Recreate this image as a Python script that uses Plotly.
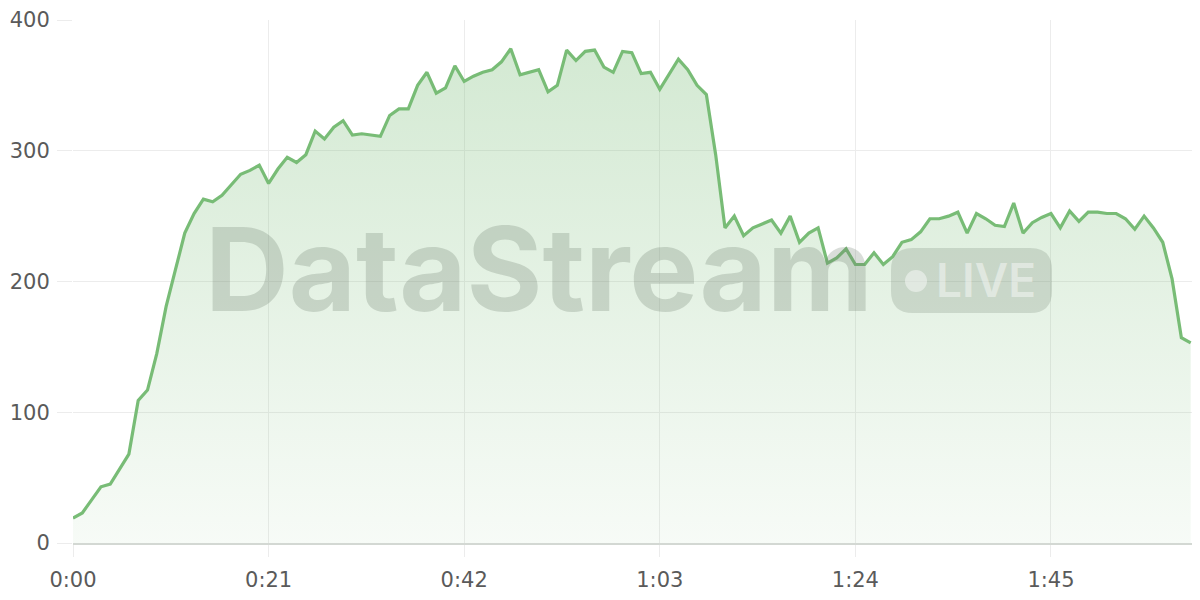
import plotly.graph_objects as go

# data (seconds, viewers)
values = [19, 23, 33, 43, 45, 57, 68, 109, 117, 145,
          181, 209, 237, 252, 263, 261, 266, 274, 282, 285,
          289, 275, 286, 295, 291, 297, 315, 309, 318, 323,
          312, 313, 312, 311, 327, 332, 332, 350, 360, 344,
          348, 365, 353, 357, 360, 362, 368, 378, 358, 360,
          362, 345, 350, 377, 369, 376, 377, 364, 360, 376,
          375, 359, 360, 347, 359, 370, 362, 350, 343, 297,
          241, 250, 235, 241, 244, 247, 237, 250, 230, 237,
          241, 214, 218, 225, 213, 213, 222, 213, 219, 230,
          232, 238, 248, 248, 250, 253, 237, 252, 248, 243,
          242, 260, 237, 245, 249, 252, 241, 254, 246, 253,
          253, 252, 252, 248, 240, 250, 241, 230, 202, 157, 153]
seconds = list(range(len(values)))
tick_vals = [0, 21, 42, 63, 84, 105]
tick_text = ["0:00", "0:21", "0:42", "1:03", "1:24", "1:45"]
y_ticks = [0, 100, 200, 300, 400]

# the page body has an 8px margin, so the figure is offset by 8px
OFF = 8
W, H = 1200 - OFF, 600 - OFF
ML, MR, MT, MB = 73 - OFF, 0, 20 - OFF, 57
PW, PH = W - ML - MR, H - MT - MB


def px(x):
    # page pixel -> paper x
    return (x - OFF - ML) / PW


def py(y):
    # page pixel -> paper y
    return (H - MB - (y - OFF)) / PH


LINE = "rgb(120,188,118)"

fig = go.Figure()
fig.add_trace(go.Scatter(
    x=seconds, y=values, mode="lines",
    line=dict(color=LINE, width=3.2),
    fill="tozeroy",
    fillgradient=dict(type="vertical", start=0, stop=380,
                      colorscale=[[0, "rgba(118,187,116,0.06)"],
                                  [1, "rgba(118,187,116,0.32)"]]),
    hoverinfo="skip", showlegend=False,
))

# watermark pill
x0, x1, y0, y1 = px(891), px(1052), py(313), py(248)
rx, ry = 22 / PW, 22 / PH
path = (f"M {x0+rx},{y1} L {x1-rx},{y1} Q {x1},{y1} {x1},{y1-ry} "
        f"L {x1},{y0+ry} Q {x1},{y0} {x1-rx},{y0} L {x0+rx},{y0} "
        f"Q {x0},{y0} {x0},{y0+ry} L {x0},{y1-ry} Q {x0},{y1} {x0+rx},{y1} Z")
fig.add_shape(type="path", path=path, xref="paper", yref="paper",
              fillcolor="rgba(120,135,120,0.25)", line=dict(width=0), layer="above")
fig.add_shape(type="circle", xref="paper", yref="paper",
              x0=px(905), x1=px(927), y0=py(292), y1=py(270),
              fillcolor="rgba(255,255,255,0.45)", line=dict(width=0), layer="above")

fig.add_annotation(text="<b>DataStream</b>", xref="paper", yref="paper",
                   x=px(539), y=py(269), xanchor="center", yanchor="middle",
                   showarrow=False,
                   font=dict(family="Inter", size=116, color="rgba(110,125,110,0.26)"))
fig.add_annotation(text="LIVE", xref="paper", yref="paper",
                   x=px(986), y=py(280), xanchor="center", yanchor="middle",
                   showarrow=False,
                   font=dict(family="Inter", size=46, weight=600, color="rgba(255,255,255,0.45)"))

GRID = "#ececec"
fig.update_layout(
    width=W, height=H,
    margin=dict(l=ML, r=MR, t=MT, b=MB, autoexpand=False),
    paper_bgcolor="white", plot_bgcolor="white",
    font=dict(family="DejaVu Sans", size=21, color="#5a5a5a"),
    xaxis=dict(range=[0, 121], tickvals=tick_vals, ticktext=tick_text,
               showgrid=True, gridcolor=GRID, gridwidth=1,
               ticks="outside", ticklen=12, tickcolor=GRID,
               showline=True, linecolor="#d3d8d3", linewidth=2,
               zeroline=False, ticklabelstandoff=5, fixedrange=True,
               automargin=False),
    yaxis=dict(range=[0, 400], tickvals=y_ticks,
               showgrid=True, gridcolor=GRID, gridwidth=1,
               ticks="outside", ticklen=15, tickcolor=GRID,
               showline=False, zeroline=False, ticklabelstandoff=3,
               ticklabeloverflow="allow",
               fixedrange=True, automargin=False),
)

fig.write_html("out.html")
